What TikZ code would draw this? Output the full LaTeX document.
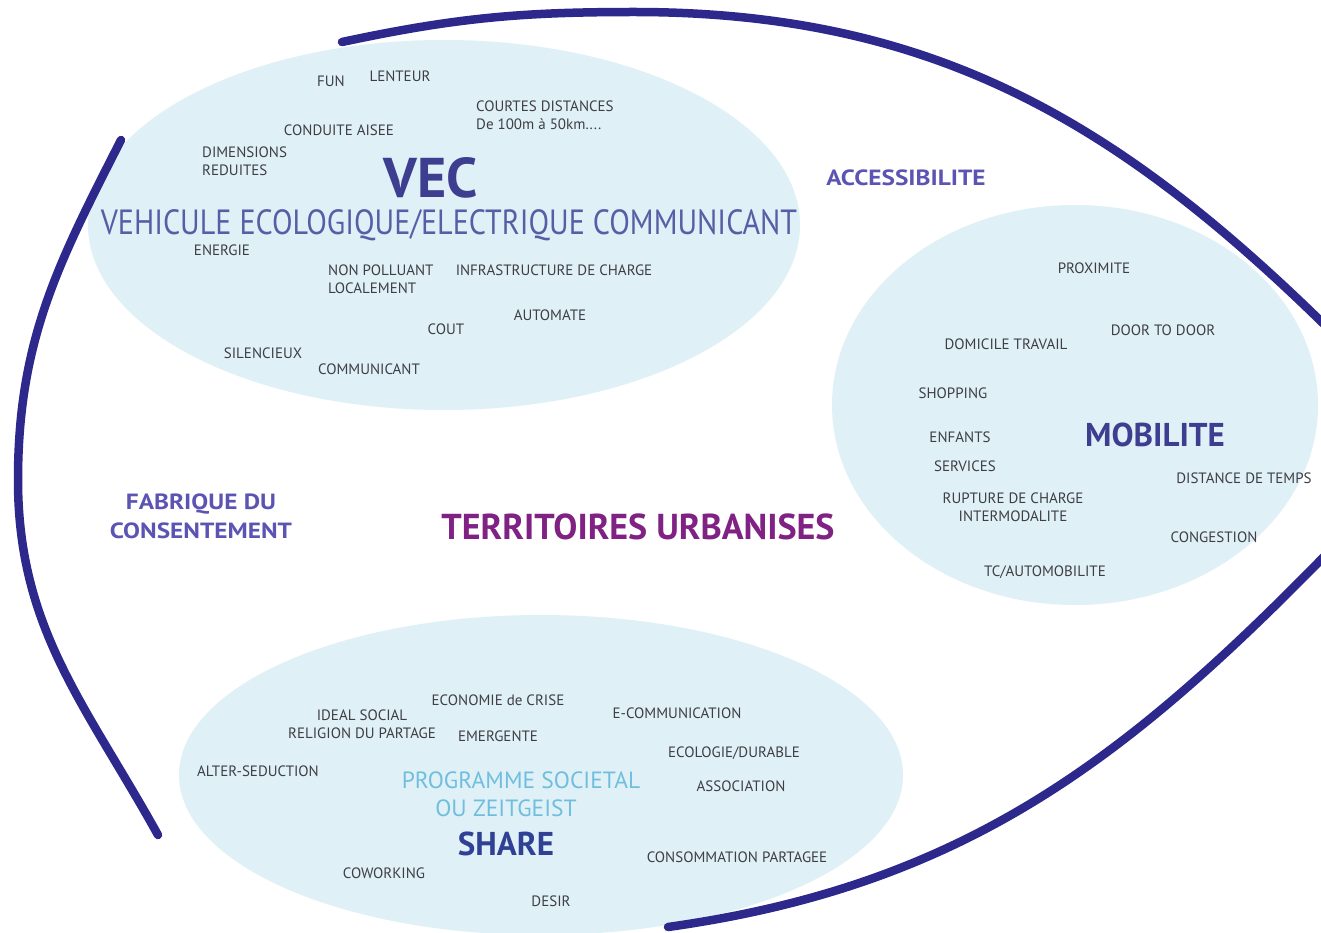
\documentclass[tikz,border=0pt]{standalone}
\usepackage{fontspec}
\setmainfont{PT Sans}
\newfontfamily\widefont[FakeStretch=1.15]{PT Sans}
\newfontfamily\narrowfont[FakeStretch=0.86]{PT Sans}

\definecolor{bubble fill}{RGB}{223,240,246}
\definecolor{ring blue}{RGB}{44,40,140}
\definecolor{word gray}{RGB}{62,62,68}
\definecolor{vec blue}{RGB}{62,62,145}
\definecolor{vec light}{RGB}{88,94,165}
\definecolor{banner}{RGB}{92,84,178}
\definecolor{territory}{RGB}{128,34,132}
\definecolor{zeitgeist}{RGB}{112,190,222}
\definecolor{share blue}{RGB}{48,64,148}

\def\vecbubble{(444,225) ellipse [x radius=356pt, y radius=185pt]}
\def\mobbubble{(1075,405) ellipse [x radius=243pt, y radius=200pt]}
\def\sharebubble{(541,775) ellipse [x radius=362pt, y radius=160pt]}

\tikzset{bubble/.style={fill=bubble fill},
    ring/.style={draw=ring blue, line width=8.5pt, line cap=round},
    word/.style={font=\fontsize{15}{18}\selectfont, text=word gray, inner sep=0pt},
    theme/.style={font=\widefont\bfseries\fontsize{22}{29}\selectfont, text=banner,
        inner sep=0pt, align=center},
    headline/.style={font=\bfseries\fontsize{33}{33}\selectfont, inner sep=0pt}}

\begin{document}
\begin{tikzpicture}[x=1pt, y=-1pt]
    \useasboundingbox (0,0) rectangle (1321,933);
    \clip (0,0) rectangle (1321,933);
    \fill[white] (0,0) rectangle (1321,933);

    \fill[bubble] \vecbubble;
    \fill[bubble] \mobbubble;
    \fill[bubble] \sharebubble;

    % outer strokes
    \draw[ring] (121,140) to[out=243, in=90] (18,480) to[out=270, in=119] (158,835);
    \draw[ring] (342,42) to[out=12, in=180] (634,12) to[out=0, in=135] (1345,345);
    \draw[ring] (668,927) to[out=8, in=226] (1345,535);

    % VEC
    \node[word] (fun) at (331,81) {FUN};
    \node[word] (lenteur) at (400,76) {LENTEUR};
    \node[word, anchor=west, align=left] (courtes) at (476,115) {COURTES DISTANCES\\De 100m à 50km....};
    \node[word] (conduite) at (339,130) {CONDUITE AISEE};
    \node[word, anchor=west, align=left] (dimensions) at (202,161) {DIMENSIONS\\REDUITES};
    \node[headline, font=\bfseries\fontsize{56}{56}\selectfont, text=vec blue] (vec) at (431,178) {VEC};
    \node[font=\narrowfont\fontsize{35}{35}\selectfont, text=vec light, inner sep=0pt] (vecfull) at (449,225)
        {VEHICULE ECOLOGIQUE/ELECTRIQUE COMMUNICANT};
    \node[word] (energie) at (222,250) {ENERGIE};
    \node[word, anchor=west, align=left] (nonpolluant) at (328,279) {NON POLLUANT\\LOCALEMENT};
    \node[word] (infra) at (554,270) {INFRASTRUCTURE DE CHARGE};
    \node[word] (automate) at (550,315) {AUTOMATE};
    \node[word] (cout) at (446,329) {COUT};
    \node[word] (silencieux) at (263,353) {SILENCIEUX};
    \node[word] (communicant) at (369,369) {COMMUNICANT};

    % middle
    \node[theme] (accessibilite) at (906,178) {ACCESSIBILITE};
    \node[theme] (fabrique) at (201,516) {FABRIQUE DU\\CONSENTEMENT};
    \node[headline, font=\bfseries\fontsize{36}{36}\selectfont, text=territory] (territoires) at (638,527) {TERRITOIRES URBANISES};

    % MOBILITE
    \node[word] (proximite) at (1094,268) {PROXIMITE};
    \node[word] (door) at (1163,330) {DOOR TO DOOR};
    \node[word] (domicile) at (1006,344) {DOMICILE TRAVAIL};
    \node[word] (shopping) at (953,393) {SHOPPING};
    \node[headline, text=vec blue] (mobilite) at (1155,435) {MOBILITE};
    \node[word] (enfants) at (960,437) {ENFANTS};
    \node[word] (services) at (965,466) {SERVICES};
    \node[word] (distance) at (1244,478) {DISTANCE DE TEMPS};
    \node[word, align=center] (rupture) at (1013,507) {RUPTURE DE CHARGE\\INTERMODALITE};
    \node[word] (congestion) at (1214,537) {CONGESTION};
    \node[word] (tcauto) at (1045,572) {TC/AUTOMOBILITE};

    % SHARE
    \node[word] (economie) at (498,700) {ECONOMIE de CRISE};
    \node[word, align=center] (ideal) at (362,724) {IDEAL SOCIAL\\RELIGION DU PARTAGE};
    \node[word] (emergente) at (498,736) {EMERGENTE};
    \node[word] (ecomm) at (677,713) {E-COMMUNICATION};
    \node[word] (ecologie) at (734,753) {ECOLOGIE/DURABLE};
    \node[word] (alter) at (258,771) {ALTER-SEDUCTION};
    \node[font=\fontsize{23.5}{23.5}\selectfont, text=zeitgeist, inner sep=0pt] (programme) at (521,780) {PROGRAMME SOCIETAL};
    \node[font=\fontsize{23.5}{23.5}\selectfont, text=zeitgeist, inner sep=0pt] (zeitgeistline) at (506,808) {OU ZEITGEIST};
    \node[word] (association) at (741,786) {ASSOCIATION};
    \node[headline, text=share blue] (share) at (506,844) {SHARE};
    \node[word] (consommation) at (737,857) {CONSOMMATION PARTAGEE};
    \node[word] (coworking) at (384,873) {COWORKING};
    \node[word] (desir) at (551,901) {DESIR};
\end{tikzpicture}
\end{document}
